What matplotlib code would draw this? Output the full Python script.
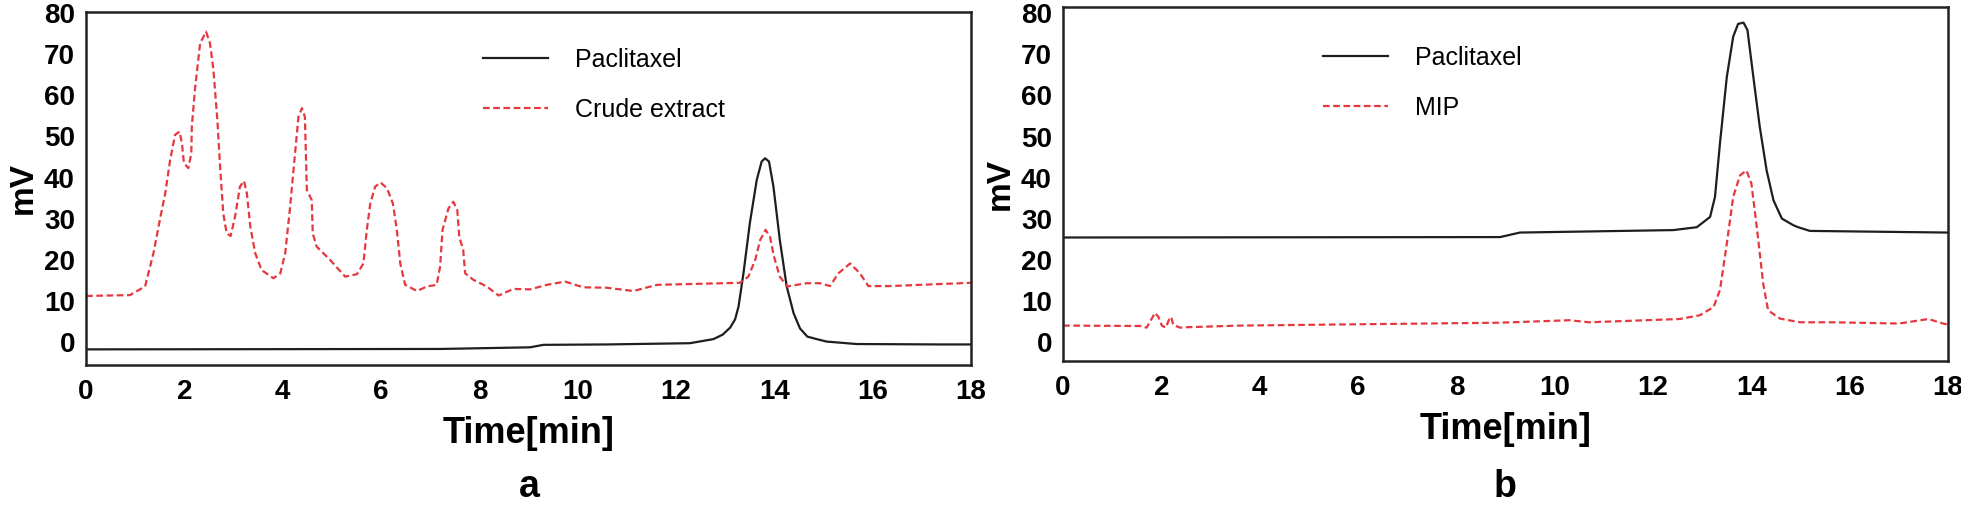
import matplotlib.pyplot as plt

# panel a: crude extract vs paclitaxel standard
a_std_t = [0, 7.2, 9.03, 9.3, 10.59, 12.28, 12.76, 12.95, 13.1, 13.2, 13.27, 13.37,
           13.5, 13.64, 13.74, 13.81, 13.89, 13.98, 14.11, 14.25, 14.39, 14.52, 14.67,
           14.86, 15.06, 15.67, 17.37, 18]
a_std_mv = [-1.8, -1.7, -1.3, -0.7, -0.6, -0.3, 0.7, 1.8, 3.5, 5.5, 8.6, 16.7,
            28.9, 39.4, 43.9, 44.7, 43.9, 37.8, 24.8, 13.5, 7.0, 3.3, 1.3,
            0.7, 0.1, -0.5, -0.6, -0.6]

a_crude_t = [0, 0.89, 1.2, 1.37, 1.5, 1.61, 1.71, 1.81, 1.9, 1.95, 1.99, 2.08, 2.14,
             2.15, 2.22, 2.32, 2.44, 2.52, 2.59, 2.67, 2.73, 2.79, 2.86, 2.94, 3.03,
             3.13, 3.21, 3.27, 3.34, 3.44, 3.57, 3.81, 3.95, 4.05, 4.15, 4.25, 4.32,
             4.39, 4.45, 4.47, 4.49, 4.59, 4.61, 4.69, 4.96, 5.27, 5.51, 5.64, 5.71,
             5.78, 5.88, 5.99, 6.12, 6.24, 6.32, 6.39, 6.49, 6.73, 6.93, 7.13, 7.2,
             7.25, 7.37, 7.47, 7.55, 7.59, 7.67, 7.71, 7.88, 8.15, 8.39, 8.69, 9.03,
             9.37, 9.74, 10.11, 10.59, 11.13, 11.61, 12.28, 13.3, 13.47, 13.61, 13.71,
             13.82, 13.91, 13.99, 14.11, 14.26, 14.45, 14.66, 14.93, 15.13, 15.3,
             15.54, 15.74, 15.91, 16.35, 17.37, 18]
a_crude_mv = [11.2, 11.4, 13.5, 21.6, 29.7, 36.2, 44.3, 50.4, 51.2, 48.3, 43.5, 42.3,
              45.9, 52.4, 62.1, 72.7, 75.5, 72.7, 66.2, 54.0, 41.8, 31.3, 26.4, 25.8,
              30.5, 37.8, 39.2, 36.2, 28.1, 21.6, 17.5, 15.5, 16.7, 21.6, 32.9, 45.9,
              54.8, 56.9, 54.8, 45.9, 37.0, 34.5, 26.4, 23.2, 20.0, 15.9, 16.5, 19.1,
              27.3, 33.7, 37.8, 38.8, 37.4, 33.7, 27.3, 19.1, 13.9, 12.4, 13.5, 13.9,
              18.3, 27.3, 32.5, 34.1, 32.1, 25.6, 22.4, 16.7, 15.1, 13.5, 11.3, 12.9,
              12.8, 13.9, 14.7, 13.3, 13.2, 12.4, 13.9, 14.1, 14.4, 15.9, 20.0, 24.8,
              27.3, 25.6, 20.8, 15.9, 13.5, 13.9, 14.3, 14.3, 13.6, 16.7, 19.1, 16.7,
              13.6, 13.6, 14.1, 14.4]

# panel b: MIP extract vs paclitaxel standard
b_std_t = [0, 8.89, 9.29, 12.41, 12.89, 13.16, 13.26, 13.36, 13.5, 13.63, 13.73, 13.84,
           13.92, 14.04, 14.17, 14.31, 14.45, 14.62, 14.85, 14.95, 15.19, 18]
b_std_mv = [25.5, 25.6, 26.7, 27.3, 28.0, 30.5, 35.4, 48.3, 64.5, 74.3, 77.4, 77.7,
            75.9, 64.5, 52.4, 41.8, 34.5, 30.1, 28.5, 28.0, 27.1, 26.7]

b_mip_t = [0, 1.57, 1.7, 1.8, 1.87, 1.94, 2.01, 2.09, 2.16, 2.2, 2.24, 2.38, 2.52, 3.6,
           8.88, 10.3, 10.7, 12.54, 12.95, 13.23, 13.36, 13.5, 13.63, 13.77, 13.9, 14.0,
           14.11, 14.24, 14.34, 14.58, 14.99, 15.65, 17.0, 17.6, 17.9, 18]
b_mip_mv = [4.1, 4.0, 3.6, 5.7, 7.2, 6.2, 4.1, 3.6, 5.7, 6.2, 4.3, 3.6, 3.7, 4.1,
            4.8, 5.4, 4.9, 5.7, 6.6, 8.6, 12.7, 24.0, 35.4, 40.6, 41.8, 38.6,
            28.0, 14.3, 7.8, 5.8, 4.9, 4.9, 4.6, 5.7, 4.6, 4.3]

x_ticks = [0, 2, 4, 6, 8, 10, 12, 14, 16, 18]
y_ticks = [0, 10, 20, 30, 40, 50, 60, 70, 80]

plt.rcParams['font.family'] = ['Liberation Sans', 'DejaVu Sans']

black = '#1e1e1e'
red = '#e5383f'

fig = plt.figure(figsize=(19.61, 5.07), dpi=100)
ax_a = fig.add_axes([0.0439, 0.2801, 0.4513, 0.6963])
ax_b = fig.add_axes([0.5421, 0.2880, 0.4513, 0.6982])

panels = [
    (ax_a, a_std_t, a_std_mv, a_crude_t, a_crude_mv, 'Crude extract', (-5.6, 80.3),
     'a', 529, (0.449, 0.898)),
    (ax_b, b_std_t, b_std_mv, b_mip_t, b_mip_mv, 'MIP', (-4.5, 81.5),
     'b', 1505, (0.294, 0.89)),
]

for ax, st, sv, ct, cv, name, ylim, letter, letter_x, leg_pos in panels:
    ax.plot(st, sv, color=black, linewidth=1.6, label='Paclitaxel')
    ax.plot(ct, cv, color=red, linewidth=1.6, linestyle=(0, (3, 1.6)), label=name)
    ax.set_xlim(0, 18)
    ax.set_ylim(*ylim)
    ax.set_xticks(x_ticks)
    ax.set_yticks(y_ticks)
    ax.tick_params(axis='y', length=0, labelsize=20, pad=8)
    ax.tick_params(axis='x', length=0, labelsize=20, pad=10)
    for lab in ax.get_xticklabels() + ax.get_yticklabels():
        lab.set_fontweight('bold')
    for sp in ax.spines.values():
        sp.set_linewidth(1.8)
        sp.set_color('#222222')
    ax.set_ylabel('mV', fontsize=24, fontweight='bold', labelpad=4)
    ax.set_xlabel('Time[min]', fontsize=26, fontweight='bold', labelpad=8)
    ax.legend(loc='upper left', bbox_to_anchor=leg_pos, frameon=False, fontsize=18,
              borderpad=0, borderaxespad=0, handlelength=2.6, handletextpad=1.08,
              labelspacing=1.05)
    fig.text(letter_x / 1961, 2 / 507, letter, ha='center', va='bottom',
             fontsize=27, fontweight='bold')

fig.savefig('out.png', dpi=100)
